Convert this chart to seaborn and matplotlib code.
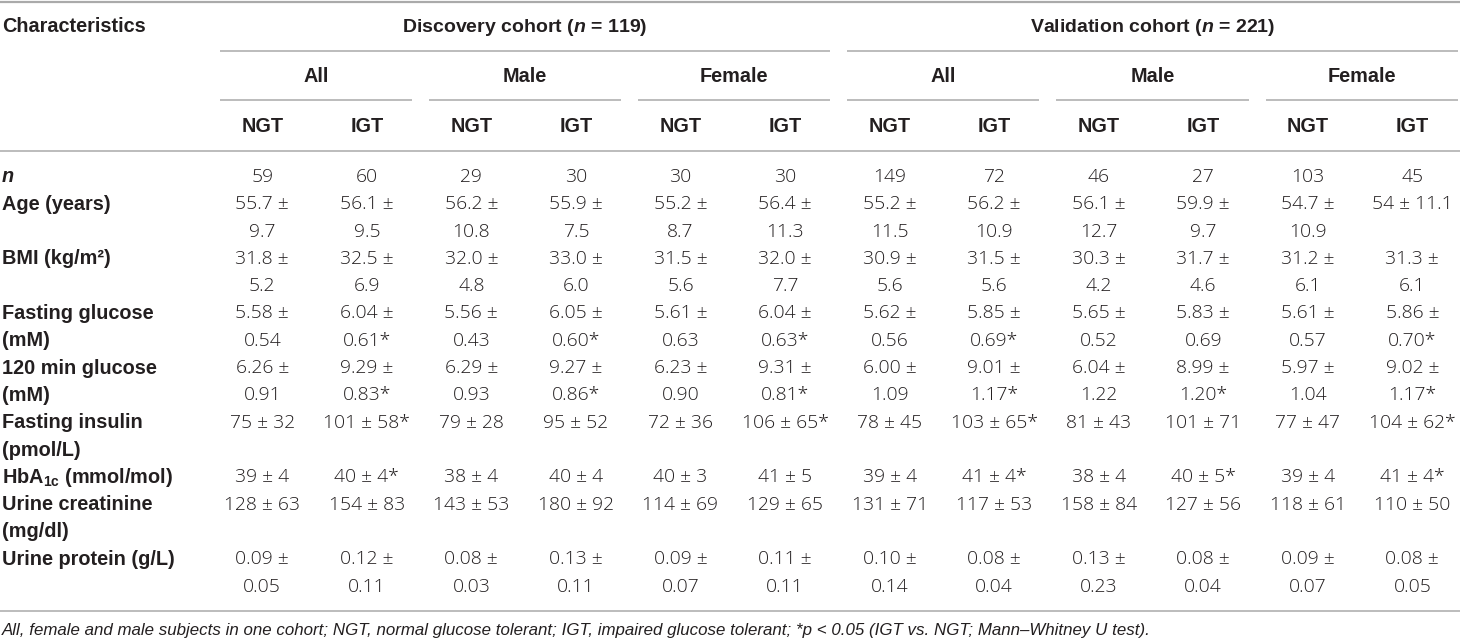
import numpy as np
import matplotlib
matplotlib.use("Agg")
import matplotlib.pyplot as plt
import seaborn as sns

# ---- table content -------------------------------------------------------
cohorts = ["Discovery cohort ($n$ = 119)", "Validation cohort ($n$ = 221)"]
subgroups = ["All", "Male", "Female", "All", "Male", "Female"]
groups = ["NGT", "IGT"] * 6

row_labels = [
    "n",
    "Age (years)",
    "BMI (kg/m²)",
    "Fasting glucose\n(mM)",
    "120 min glucose\n(mM)",
    "Fasting insulin\n(pmol/L)",
    r"HbA$_{\mathbf{1c}}$ (mmol/mol)",
    "Urine creatinine\n(mg/dl)",
    "Urine protein (g/L)",
]

n_counts = ["59", "60", "29", "30", "30", "30", "149", "72", "46", "27", "103", "45"]
age = ["55.7 ± 9.7", "56.1 ± 9.5", "56.2 ± 10.8", "55.9 ± 7.5", "55.2 ± 8.7", "56.4 ± 11.3",
       "55.2 ± 11.5", "56.2 ± 10.9", "56.1 ± 12.7", "59.9 ± 9.7", "54.7 ± 10.9", "54 ± 11.1"]
bmi = ["31.8 ± 5.2", "32.5 ± 6.9", "32.0 ± 4.8", "33.0 ± 6.0", "31.5 ± 5.6", "32.0 ± 7.7",
       "30.9 ± 5.6", "31.5 ± 5.6", "30.3 ± 4.2", "31.7 ± 4.6", "31.2 ± 6.1", "31.3 ± 6.1"]
fasting_glucose = ["5.58 ± 0.54", "6.04 ± 0.61*", "5.56 ± 0.43", "6.05 ± 0.60*", "5.61 ± 0.63",
                   "6.04 ± 0.63*", "5.62 ± 0.56", "5.85 ± 0.69*", "5.65 ± 0.52", "5.83 ± 0.69",
                   "5.61 ± 0.57", "5.86 ± 0.70*"]
glucose_120 = ["6.26 ± 0.91", "9.29 ± 0.83*", "6.29 ± 0.93", "9.27 ± 0.86*", "6.23 ± 0.90",
               "9.31 ± 0.81*", "6.00 ± 1.09", "9.01 ± 1.17*", "6.04 ± 1.22", "8.99 ± 1.20*",
               "5.97 ± 1.04", "9.02 ± 1.17*"]
fasting_insulin = ["75 ± 32", "101 ± 58*", "79 ± 28", "95 ± 52", "72 ± 36", "106 ± 65*",
                   "78 ± 45", "103 ± 65*", "81 ± 43", "101 ± 71", "77 ± 47", "104 ± 62*"]
hba1c = ["39 ± 4", "40 ± 4*", "38 ± 4", "40 ± 4", "40 ± 3", "41 ± 5",
         "39 ± 4", "41 ± 4*", "38 ± 4", "40 ± 5*", "39 ± 4", "41 ± 4*"]
urine_creatinine = ["128 ± 63", "154 ± 83", "143 ± 53", "180 ± 92", "114 ± 69", "129 ± 65",
                    "131 ± 71", "117 ± 53", "158 ± 84", "127 ± 56", "118 ± 61", "110 ± 50"]
urine_protein = ["0.09 ± 0.05", "0.12 ± 0.11", "0.08 ± 0.03", "0.13 ± 0.11", "0.09 ± 0.07",
                 "0.11 ± 0.11", "0.10 ± 0.14", "0.08 ± 0.04", "0.13 ± 0.23", "0.08 ± 0.04",
                 "0.09 ± 0.07", "0.08 ± 0.05"]

rows = [n_counts, age, bmi, fasting_glucose, glucose_120, fasting_insulin,
        hba1c, urine_creatinine, urine_protein]

footnote = ("All, female and male subjects in one cohort; NGT, normal glucose tolerant; "
            "IGT, impaired glucose tolerant; *p < 0.05 (IGT vs. NGT; Mann–Whitney U test).")

# ---- style ---------------------------------------------------------------
sns.set_theme(style="white")
plt.rcParams["font.family"] = ["Liberation Sans", "DejaVu Sans"]
plt.rcParams["mathtext.fontset"] = "custom"
plt.rcParams["mathtext.rm"] = "Liberation Sans:bold"
plt.rcParams["mathtext.bf"] = "Liberation Sans:bold"
plt.rcParams["mathtext.it"] = "Liberation Sans:bold:italic"

TXT = "#231f20"
LINE = "#aaaaaa"
FS = 14.3
VAL_FONT = dict(family=["Open Sans", "Liberation Sans"], fontweight="light", fontsize=13.9)

W, H = 1460, 642
fig = plt.figure(figsize=(W / 100, H / 100), dpi=100)
ax = fig.add_axes([0, 0, 1, 1])
ax.set_xlim(0, W)
ax.set_ylim(H, 0)
ax.axis("off")

col_w = 104.55
col_left = 210.0
centers = col_left + col_w * (np.arange(len(groups)) + 0.5)


def hline(x0, x1, y, lw=1.1):
    ax.plot([x0, x1], [y, y], color=LINE, lw=lw, solid_capstyle="butt")


def wrap_cell(s):
    # long "mean ± sd" strings break after the ± sign
    if len(s) > 9 and "± " in s:
        a, b = s.split("± ", 1)
        return [a + "±", b]
    return [s]


# rules
hline(0, W, 1.5, lw=1.6)
hline(0, W, 151)
hline(0, W, 611)

# header rows
ax.text(2, 27, "Characteristics", fontsize=FS, fontweight="bold", color=TXT, va="center")
for k, label in enumerate(cohorts):
    x0 = col_left + 6 * k * col_w + 10
    x1 = min(col_left + 6 * (k + 1) * col_w - 7, W)
    hline(x0, x1, 51)
    ax.text((x0 + x1) / 2, 27, label, fontsize=14, fontweight="bold", color=TXT,
            ha="center", va="center")

for k, label in enumerate(subgroups):
    x0 = col_left + 2 * k * col_w + 10
    x1 = min(col_left + 2 * (k + 1) * col_w - 7, W)
    hline(x0, x1, 100)
    ax.text((x0 + x1) / 2, 77, label, fontsize=FS, fontweight="bold", color=TXT,
            ha="center", va="center")

for x, g in zip(centers, groups):
    ax.text(x, 127, g, fontsize=FS, fontweight="bold", color=TXT, ha="center", va="center")

# body
y0, pitch = 177, 27.3
line = 0
for label, vals in zip(row_labels, rows):
    label_lines = label.split("\n")
    cells = [wrap_cell(v) for v in vals]
    n_lines = max(len(label_lines), max(len(c) for c in cells))
    for i, t in enumerate(label_lines):
        style = "italic" if label == "n" else "normal"
        ax.text(2, y0 + pitch * (line + i), t, fontsize=FS, fontweight="bold",
                fontstyle=style, color=TXT, va="center")
    for x, c in zip(centers, cells):
        for i, t in enumerate(c):
            ax.text(x, y0 + pitch * (line + i), t, color=TXT,
                    ha="center", va="center", **VAL_FONT)
    line += n_lines

ax.text(2, 630, footnote, fontsize=12.2, fontstyle="italic", color=TXT, va="center")

fig.savefig("out.png", dpi=100)
